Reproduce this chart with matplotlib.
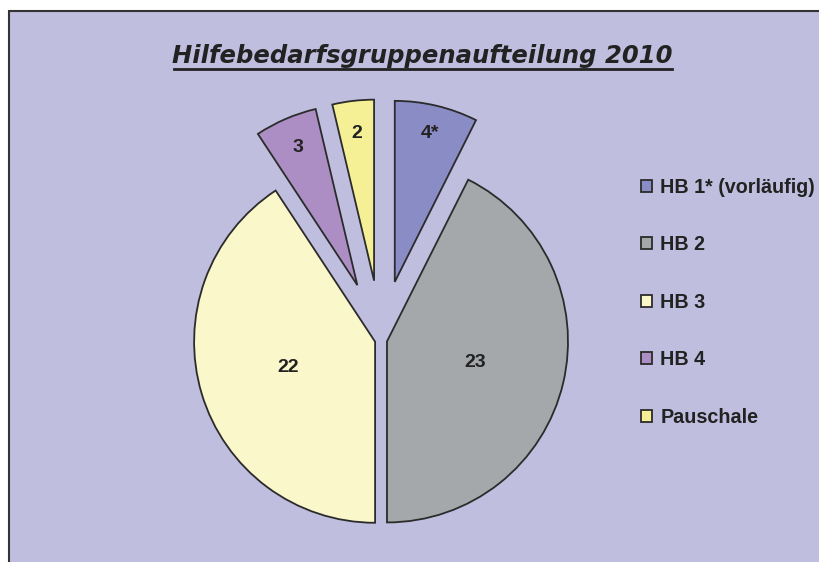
import matplotlib
matplotlib.use("Agg")
import matplotlib.pyplot as plt
import numpy as np
from matplotlib.patches import Rectangle

# Pie data
categories = ["HB 1* (vorläufig)", "HB 2", "HB 3", "HB 4", "Pauschale"]
values = [4, 23, 22, 3, 2]
value_marks = ["*", "", "", "", ""]
colors = ["#8A8CC6", "#A5A8AA", "#FAF8CA", "#AC8EC4", "#F5F096"]
explode = [0.33, 0.034, 0.034, 0.33, 0.33]
label_dist = [0.84, 0.50, 0.50, 0.83, 0.82]

title = "Hilfebedarfsgruppenaufteilung 2010"
bg = "#BFBEDE"

W, H = 820, 562
fig = plt.figure(figsize=(W / 100, H / 100), dpi=100)
fig.patch.set_facecolor("white")
ax = fig.add_axes([0, 0, 1, 1])

# lavender panel with dark border (left and top visible)
ax.add_patch(Rectangle((9, -20), W + 20, H - 11 + 20, facecolor=bg,
                       edgecolor="#333333", linewidth=1.5, zorder=0))

R = 181
cx, cy = 381, H - 340
# explode offsets are in data units when a radius is given
wedges, _ = ax.pie(values, colors=colors, explode=[e * R for e in explode],
                   startangle=90, counterclock=False, radius=R, center=(cx, cy),
                   wedgeprops=dict(edgecolor="#2B2B2B", linewidth=1.3))

# value labels inside the slices
for w, v, m, d in zip(wedges, values, value_marks, label_dist):
    ang = np.deg2rad((w.theta1 + w.theta2) / 2)
    x0, y0 = w.center
    ax.text(x0 + d * R * np.cos(ang), y0 + d * R * np.sin(ang), f"{v}{m}",
            ha="center", va="center", fontsize=14, fontweight="bold",
            family="Liberation Sans", color="#222222")

ax.set_xlim(0, W)
ax.set_ylim(0, H)
ax.set_aspect("auto")
ax.axis("off")

# underlined title
t = ax.text(422, H - 56, title, ha="center", va="center", fontsize=17.5,
            fontweight="bold", fontstyle="italic", color="#222222")
fig.canvas.draw()
bb = t.get_window_extent().transformed(ax.transData.inverted())
ax.plot([bb.x0 + 2, bb.x1], [H - 69, H - 69], color="#222222", linewidth=2)

leg = ax.legend(wedges, categories, loc="upper left",
                bbox_to_anchor=(631 / W, 1 - 168 / H), frameon=False,
                prop=dict(family="Liberation Sans", weight="bold", size=14.2),
                labelspacing=1.95, handlelength=0.56, handleheight=0.56,
                handletextpad=0.42, borderpad=0)
for txt in leg.get_texts():
    txt.set_color("#222222")

fig.savefig("out.png", dpi=100)
